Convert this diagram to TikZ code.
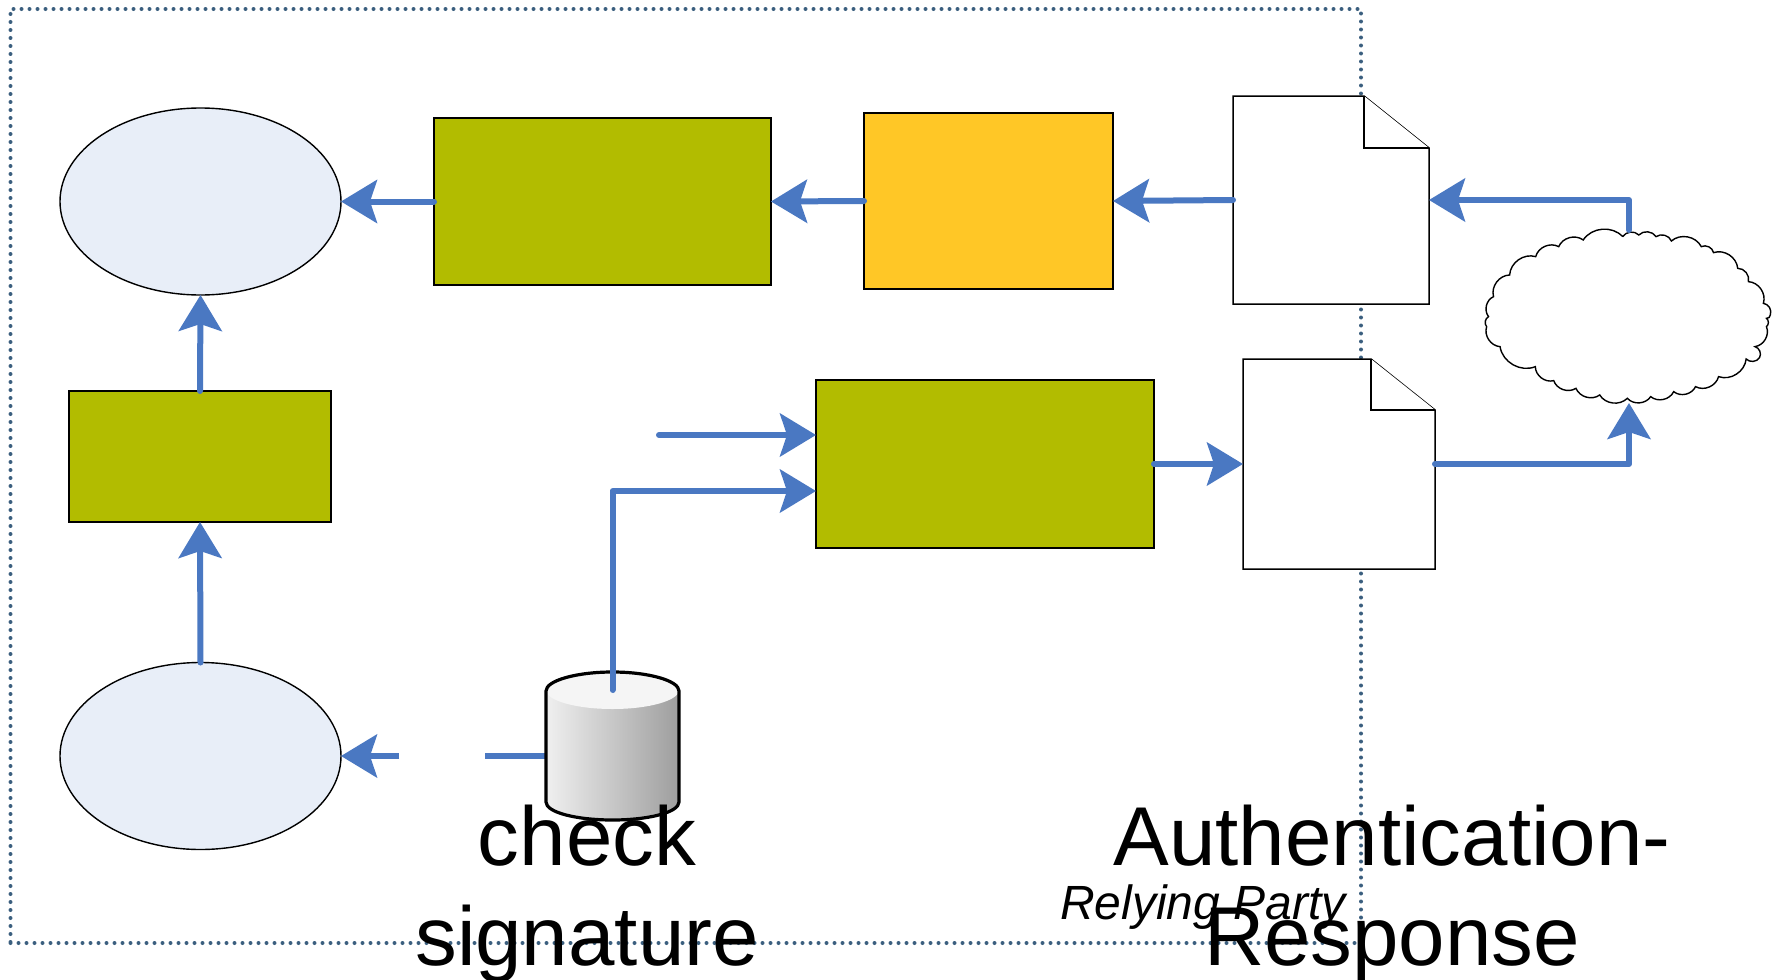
\documentclass[tikz,border=0pt]{standalone}
\usepackage{fontspec}
\setmainfont{Liberation Sans}
\usetikzlibrary{arrows.meta,shapes.geometric}
\definecolor{flow}{HTML}{4A78C2}
\definecolor{dots}{HTML}{3B5F7F}
\definecolor{olive}{HTML}{B2BC00}
\definecolor{amber}{HTML}{FFC726}
\definecolor{pale}{HTML}{E8EEF8}
\tikzset{
  x=1pt,y=-1pt,
  every node/.style={inner sep=0pt,outer sep=0pt},
  framebox/.style={draw=dots,line width=4pt,line cap=round,dash pattern=on 0pt off 8pt},
  oval/.style={ellipse,draw=black,line width=1.4pt,fill=pale,minimum width=281pt,minimum height=187pt},
  block/.style={rectangle,draw=black,line width=1.4pt},
  ghost/.style={rectangle},
  sheet/.style={draw=black,line width=1.5pt,fill=white,line join=miter},
  flowline/.style={draw=flow,line width=6pt,line cap=round,line join=round},
  flowarrow/.style={flowline,-{Stealth[length=36pt,width=43pt,inset=7pt]}},
  big/.style={font=\fontsize{83.5}{100}\selectfont,align=center,text=black},
}
\begin{document}
\begin{tikzpicture}
\useasboundingbox (0,0) rectangle (1781,980);
\fill[white] (0,0) rectangle (1781,980);
\node[framebox,rectangle,minimum width=1350.5pt,minimum height=934pt] (rp) at (685.75,476) {};

\node[oval] (top) at (200.5,201.5) {};
\node[oval] (bottom) at (200.5,756) {};
\node[block,fill=olive,minimum width=337pt,minimum height=167pt] (verify) at (602.5,201.5) {};
\node[block,fill=amber,minimum width=249pt,minimum height=176pt] (decode) at (988.5,201) {};
\node[block,fill=olive,minimum width=262pt,minimum height=131pt] (check) at (200,456.5) {};
\node[block,fill=olive,minimum width=338pt,minimum height=168pt] (make) at (985,464) {};

\node[ghost,minimum width=196pt,minimum height=208pt] (doca) at (1331,200) {};
\node[ghost,minimum width=192pt,minimum height=210pt] (docb) at (1339,464) {};
\draw[sheet] (doca.north west) -- (1364,96) -- (1429,148) -- (doca.south east) -- (doca.south west) -- cycle;
\draw[sheet] (1364,96) -- (1364,148) -- (1429,148);
\draw[sheet] (docb.north west) -- (1371,359) -- (1435,410) -- (docb.south east) -- (docb.south west) -- cycle;
\draw[sheet] (1371,359) -- (1371,410) -- (1435,410);

\node[ghost,minimum width=292pt,minimum height=173pt] (cloud) at (1629,316.5) {};
\begin{scope}[shift={(1180,60)},x=0.3833pt,y=-0.3333pt,every to/.style={bend left=52},line width=1.4pt]
\draw[fill=white] (1155,530) to (1197,525) to (1242,530) to (1282,543) to (1360,560) to (1392,578) to (1455,625) to (1483,665) to (1522,730) to (1540,765) to (1530,775) to (1530,800) to (1500,860) to (1512,893) to (1477,897) to (1405,950) to (1345,980) to (1288,995) to (1228,1010) to (1167,1015) to (1095,1005) to (1033,985) to (975,962) to (927,920) to (835,860) to (800,800) to (805,770) to (818,710) to (860,645) to (928,590) to (988,560) to (1052,540) to (1155,530);
\end{scope}

\node[ghost,minimum width=133pt,minimum height=150pt] (store) at (612.5,746) {};
\coordinate (storeL) at (546,756);
\coordinate (storeT) at (612.5,690);
\coordinate (gapR) at (485,756);
\coordinate (gapL) at (399,756);
\coordinate (freeIn) at (659,435);
\coordinate (makeA) at (816,435);
\coordinate (makeB) at (816,491);

\draw[flowarrow] (verify.west) -- (top.east);
\draw[flowarrow] (decode.west) -- (verify.east);
\draw[flowarrow] (doca.west) -- (decode.east);
\draw[flowarrow] (cloud.north) |- (doca.east);
\draw[flowarrow] (check.north) -- (top.south);
\draw[flowarrow] (bottom.north) -- (check.south);
\draw[flowline,line cap=butt] (storeL) -- (gapR);
\draw[flowarrow,line cap=butt] (gapL) -- (bottom.east);
\draw[flowarrow] (freeIn) -- (makeA);
\draw[flowarrow] (make.east) -- (docb.west);
\draw[flowarrow] (docb.east) -| (cloud.south);

\shade[left color=black!6,right color=black!38] (546,691) -- (679,691) -- (679,802) .. controls (679,812.5) and (648,820) .. (612.5,820) .. controls (576.7,820) and (546,812.5) .. (546,802) -- cycle;
\node[ellipse,fill=black!4,minimum width=133pt,minimum height=38pt] (lid) at (612.5,690) {};
\draw[black,line width=3.2pt,line join=round] (546,691) .. controls (546,680.5) and (576.7,672) .. (612.5,672) .. controls (648,672) and (679,680.5) .. (679,691) -- (679,802) .. controls (679,812.5) and (648,820) .. (612.5,820) .. controls (576.7,820) and (546,812.5) .. (546,802) -- cycle;
\draw[flowarrow] (storeT) |- (makeB);

\node[big,anchor=center] (lbla) at (587,894) {check\\signature};
\node[big,anchor=center] (lblb) at (1392,894) {Authentication-\\Response};
\node[font=\fontsize{48}{56}\selectfont\itshape,anchor=base] (lblc) at (1203,919) {Relying Party};
\end{tikzpicture}
\end{document}
